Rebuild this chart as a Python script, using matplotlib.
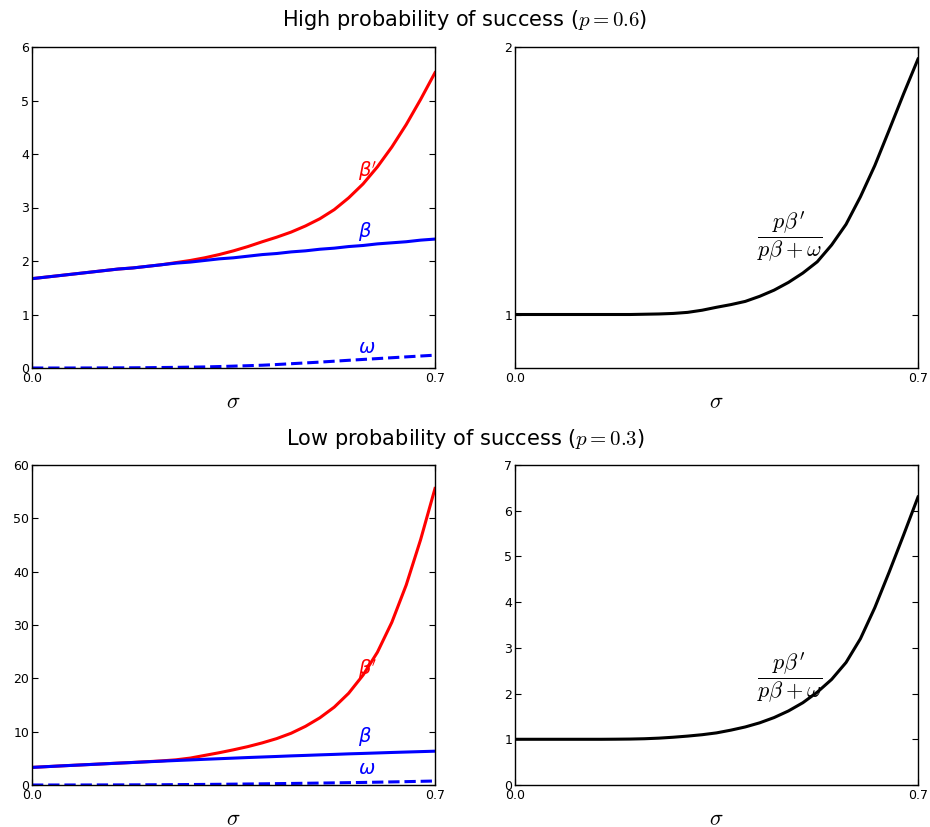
import matplotlib
matplotlib.use("Agg")
import matplotlib.pyplot as plt

# sigma sample positions
sigma = [0.0, 0.025, 0.05, 0.075, 0.1, 0.125, 0.15, 0.175, 0.2, 0.225, 0.25,
         0.275, 0.3, 0.325, 0.35, 0.375, 0.4, 0.425, 0.45, 0.475, 0.5,
         0.525, 0.55, 0.575, 0.6, 0.625, 0.65, 0.675, 0.7]

# High probability of success (p = 0.6)
hi_beta = [1.67, 1.70, 1.73, 1.76, 1.79, 1.82, 1.85, 1.87, 1.90, 1.93, 1.96,
           1.98, 2.01, 2.04, 2.06, 2.09, 2.12, 2.14, 2.17, 2.19, 2.22,
           2.24, 2.27, 2.29, 2.32, 2.34, 2.36, 2.39, 2.41]
hi_beta_prime = [1.67, 1.70, 1.73, 1.76, 1.79, 1.82, 1.85, 1.87, 1.90, 1.93, 1.97,
                 2.01, 2.06, 2.12, 2.19, 2.27, 2.36, 2.445, 2.54, 2.655, 2.79,
                 2.96, 3.18, 3.44, 3.76, 4.13, 4.55, 5.02, 5.52]
hi_omega = [0.0, 0.0, 0.0, 0.0005, 0.001, 0.002, 0.003, 0.004, 0.006, 0.009, 0.012,
            0.016, 0.02, 0.027, 0.035, 0.043, 0.052, 0.065, 0.08, 0.095, 0.11,
            0.127, 0.144, 0.16, 0.176, 0.192, 0.208, 0.224, 0.24]
hi_ratio = [1.0, 1.0, 1.0, 1.0, 1.0, 1.0, 1.0, 1.0, 1.0, 1.001, 1.002,
            1.004, 1.008, 1.016, 1.027, 1.037, 1.049, 1.068, 1.091, 1.12, 1.155,
            1.197, 1.26, 1.337, 1.44, 1.557, 1.69, 1.825, 1.955]

# Low probability of success (p = 0.3)
lo_beta = [3.30, 3.44, 3.58, 3.71, 3.84, 3.97, 4.10, 4.22, 4.35, 4.47, 4.59,
           4.70, 4.82, 4.93, 5.04, 5.15, 5.25, 5.35, 5.46, 5.55, 5.65,
           5.74, 5.84, 5.92, 6.01, 6.10, 6.18, 6.26, 6.34]
lo_beta_prime = [3.30, 3.44, 3.58, 3.71, 3.84, 3.97, 4.10, 4.23, 4.37, 4.52, 4.72,
                 5.05, 5.55, 6.05, 6.6, 7.2, 7.9, 8.7, 9.7, 11.0, 12.6,
                 14.6, 17.2, 20.6, 24.9, 30.5, 37.5, 46.0, 55.6]
lo_omega = [0.0, 0.0, 0.003, 0.006, 0.01, 0.015, 0.02, 0.03, 0.04, 0.05, 0.07,
            0.09, 0.11, 0.13, 0.16, 0.19, 0.22, 0.255, 0.29, 0.325, 0.36,
            0.40, 0.44, 0.48, 0.53, 0.58, 0.63, 0.69, 0.75]
lo_ratio = [1.0, 1.0, 1.0, 1.0, 1.0, 1.0, 1.0, 1.002, 1.005, 1.012, 1.025,
            1.045, 1.07, 1.10, 1.14, 1.20, 1.27, 1.36, 1.475, 1.62, 1.80,
            2.03, 2.31, 2.68, 3.20, 3.88, 4.66, 5.47, 6.3]

hi_left_yticks = [0, 1, 2, 3, 4, 5, 6]
hi_right_yticks = [1, 2]
lo_left_yticks = [0, 10, 20, 30, 40, 50, 60]
lo_right_yticks = [0, 1, 2, 3, 4, 5, 6, 7]
xticks = [0.0, 0.7]
xticklabels = ["0.0", "0.7"]

titles = [r"High probability of success ($p=0.6$)",
          r"Low probability of success ($p=0.3$)"]

W, H = 930, 827
fig = plt.figure(figsize=(W / 100, H / 100), dpi=100)


def rect(l, r, t, b):
    return [l / W, 1 - b / H, (r - l) / W, (b - t) / H]


ax_tl = fig.add_axes(rect(32, 435, 47, 368))
ax_tr = fig.add_axes(rect(515, 918, 47, 368))
ax_bl = fig.add_axes(rect(32, 435, 465, 785))
ax_br = fig.add_axes(rect(515, 918, 465, 785))


def style(ax, ylim, yticks):
    ax.set_xlim(0, 0.7)
    ax.set_ylim(*ylim)
    ax.set_xticks(xticks)
    ax.set_xticklabels(xticklabels)
    ax.set_yticks(yticks)
    ax.tick_params(direction="in", top=True, right=True, length=4, width=0.8,
                   labelsize=9, pad=2)
    ax.tick_params(axis="x", pad=3)
    for s in ax.spines.values():
        s.set_linewidth(1.0)
    ax.set_xlabel(r"$\sigma$", fontsize=16, math_fontfamily="cm", labelpad=5)


def left_panel(ax, bp, b, w, ylim, yticks, lab_y):
    ax.plot(sigma, bp, color="red", lw=2.2)
    ax.plot(sigma, b, color="blue", lw=2.2)
    ax.plot(sigma, w, color="blue", lw=2.2, ls="--")
    style(ax, ylim, yticks)
    ax.text(0.566, lab_y[0], r"$\beta'$", color="red", fontsize=14, va="bottom")
    ax.text(0.566, lab_y[1], r"$\beta$", color="blue", fontsize=14, va="bottom")
    ax.text(0.566, lab_y[2], r"$\omega$", color="blue", fontsize=14, va="bottom")


def right_panel(ax, r, ylim, yticks, lab_y):
    ax.plot(sigma, r, color="black", lw=2.2)
    style(ax, ylim, yticks)
    ax.text(0.478, lab_y, r"$\dfrac{p\beta'}{p\beta+\omega}$", fontsize=16,
            math_fontfamily="cm", ha="center", va="center")


left_panel(ax_tl, hi_beta_prime, hi_beta, hi_omega, (0, 6), hi_left_yticks,
           (3.45, 2.33, 0.2))
right_panel(ax_tr, hi_ratio, (0.8, 2), hi_right_yticks, 1.29)
left_panel(ax_bl, lo_beta_prime, lo_beta, lo_omega, (0, 60), lo_left_yticks,
           (19.5, 6.9, 1.4))
right_panel(ax_br, lo_ratio, (0, 7), lo_right_yticks, 2.34)

fig.text(0.5, 1 - 20 / H, titles[0], ha="center", va="center", fontsize=15,
         math_fontfamily="cm")
fig.text(0.5, 1 - 439 / H, titles[1], ha="center", va="center", fontsize=15,
         math_fontfamily="cm")

fig.savefig("out.png", dpi=100)
